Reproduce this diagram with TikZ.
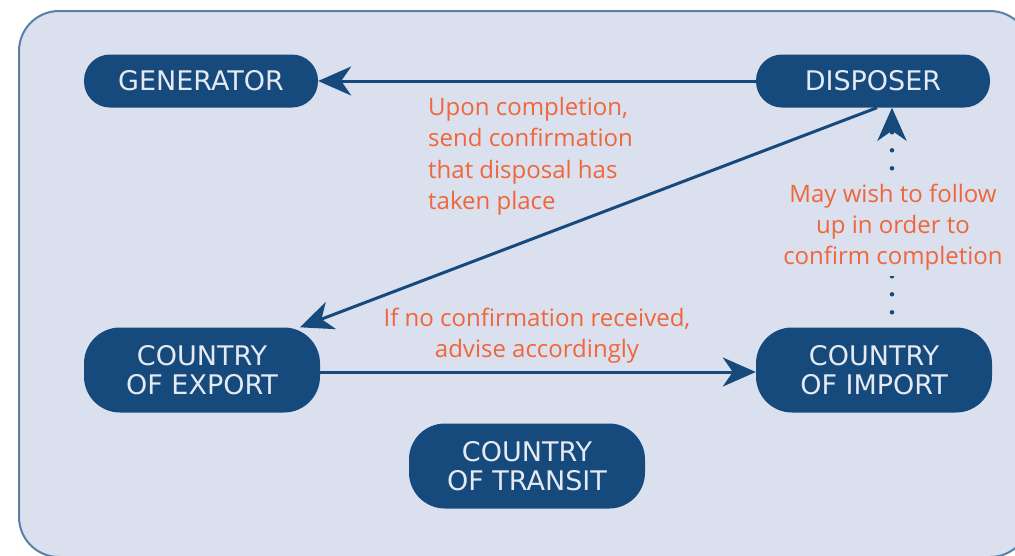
\documentclass[tikz,border=0pt]{standalone}
\usepackage{fontspec}
\setmainfont{DejaVu Sans}
\newfontfamily\notefont{Open Sans}
\usetikzlibrary{arrows.meta}
\definecolor{bgfill}{HTML}{DAE0EE}
\definecolor{bgline}{HTML}{5A7FA8}
\definecolor{nodeblue}{HTML}{174A7C}
\definecolor{nodetext}{HTML}{E4E9F2}
\definecolor{noteorange}{HTML}{F0663A}
\begin{document}
\begin{tikzpicture}[x=1pt,y=-1pt,
  box/.style={fill=nodeblue, text=nodetext, rounded corners=26pt,
    minimum width=234pt, minimum height=53pt, align=center, inner sep=0pt,
    font=\fontsize{27}{29}\selectfont},
  tallbox/.style={box, minimum width=236pt, minimum height=85pt, rounded corners=36pt},
  note/.style={text=noteorange, inner sep=0pt, font=\notefont\fontsize{24}{31.3}\selectfont},
  tip/.style={-{Stealth[length=33pt,width=29pt,inset=10pt]}},
  arr/.style={draw=nodeblue, line width=3pt, tip},
  dots/.style={draw=nodeblue, line width=4.5pt, line cap=round,
    dash pattern=on 0pt off 18pt, dash phase=3pt, tip}
]
\useasboundingbox (0,0) rectangle (1015,555);
\path[fill=bgfill, draw=bgline, line width=2pt, rounded corners=40pt]
  (19,11) rectangle (1030,557);

\node[box] (gen) at (201,81) {GENERATOR};
\node[box] (disp) at (873,81) {DISPOSER};
\node[tallbox] (exp) at (202,370) {COUNTRY\\OF EXPORT};
\node[tallbox] (imp) at (874,370) {COUNTRY\\OF IMPORT};
\node[tallbox] (tra) at (527,466) {COUNTRY\\OF TRANSIT};

\draw[arr] (disp) -- (gen);
\draw[arr] ([xshift=4pt]disp.south) -- ([xshift=98pt]exp.north);
\draw[arr] ([yshift=-2pt]exp.east) -- ([yshift=-2pt]imp.west);
\draw[dots] ([xshift=18pt]imp.north) -- ([xshift=19pt]disp.south);

\node[note, align=left, anchor=north west] (n1) at (428,97)
  {Upon completion,\\send confirmation\\that disposal has\\taken place};
\node[note, align=center] (n2) at (537,336)
  {If no confirmation received,\\advise accordingly};
\node[note, align=center, fill=bgfill, inner ysep=6pt] (n3) at (893,227)
  {May wish to follow\\up in order to\\confirm completion};
\end{tikzpicture}
\end{document}
